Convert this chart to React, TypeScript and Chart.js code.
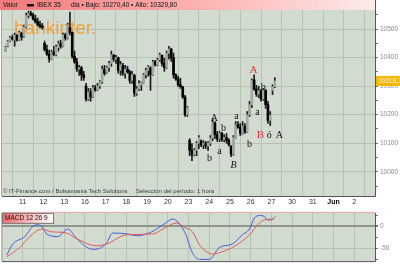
import React, { useEffect, useRef } from 'react';
import { Chart, registerables } from 'chart.js';
Chart.register(...registerables);

const SANS = '"Liberation Sans", Arial, sans-serif';
const SERIF = '"Liberation Serif", "DejaVu Serif", serif';

// x axis: trading-day index (0 = 10 May) -> label
const dayTickLabels = ['', '11', '12', '13', '16', '17', '18', '19', '20', '23', '24', '25', '26', '27', '30', '31', 'Jun', '2', ''];
const priceTicks = [10000, 10100, 10200, 10300, 10400, 10500];

// hourly candles [open, high, low, close]
const may10 = [
  [10425, 10440, 10423, 10437], [10440, 10461, 10438, 10458], [10458, 10475, 10455, 10470], [10470, 10479, 10461, 10465],
  [10462, 10486, 10440, 10478], [10478, 10481, 10458, 10462], [10462, 10493, 10460, 10488], [10486, 10489, 10461, 10472],
];
const may11 = [
  [10475, 10514, 10472, 10508], [10508, 10556, 10504, 10548], [10548, 10563, 10539, 10555], [10555, 10563, 10546, 10550],
  [10550, 10556, 10532, 10535], [10535, 10549, 10521, 10526], [10526, 10539, 10511, 10515], [10515, 10528, 10504, 10510],
  [10510, 10520, 10500, 10506],
];
const may12 = [
  [10450, 10458, 10423, 10428], [10428, 10444, 10408, 10412], [10412, 10426, 10384, 10395], [10395, 10426, 10393, 10420],
  [10420, 10440, 10408, 10410], [10410, 10444, 10406, 10438], [10435, 10458, 10423, 10450], [10450, 10461, 10433, 10440],
  [10440, 10486, 10438, 10480],
];
const may13 = [
  [10480, 10486, 10461, 10468], [10468, 10521, 10465, 10515], [10505, 10560, 10480, 10488], [10488, 10490, 10398, 10405],
  [10405, 10423, 10380, 10385], [10385, 10398, 10352, 10360], [10360, 10373, 10338, 10365], [10365, 10370, 10320, 10340],
  [10340, 10352, 10320, 10330],
];
const may16 = [
  [10300, 10310, 10247, 10255], [10255, 10292, 10250, 10280], [10280, 10292, 10247, 10262], [10262, 10303, 10260, 10295],
  [10295, 10303, 10282, 10286], [10286, 10310, 10284, 10300], [10300, 10320, 10292, 10315], [10315, 10370, 10310, 10360],
  [10360, 10373, 10338, 10345],
];
const may17 = [
  [10348, 10370, 10345, 10365], [10365, 10387, 10352, 10380], [10380, 10423, 10370, 10410], [10408, 10412, 10387, 10395],
  [10395, 10408, 10380, 10400], [10400, 10402, 10345, 10355], [10355, 10387, 10338, 10375], [10372, 10380, 10338, 10345],
  [10345, 10373, 10328, 10360],
];
const may18 = [
  [10360, 10370, 10345, 10350], [10350, 10356, 10310, 10320], [10320, 10352, 10310, 10340], [10338, 10342, 10264, 10275],
  [10275, 10299, 10268, 10290], [10290, 10320, 10285, 10310], [10305, 10315, 10285, 10312], [10312, 10345, 10310, 10340],
  [10340, 10363, 10328, 10355],
];
const may19 = [
  [10355, 10373, 10335, 10368], [10365, 10368, 10285, 10340], [10340, 10391, 10338, 10385], [10385, 10391, 10370, 10375],
  [10375, 10398, 10372, 10392], [10392, 10416, 10387, 10410], [10408, 10410, 10370, 10380], [10380, 10398, 10352, 10365],
  [10365, 10423, 10362, 10415],
];
const may20 = [
  [10415, 10440, 10395, 10430], [10430, 10433, 10387, 10400], [10400, 10416, 10328, 10340], [10340, 10343, 10320, 10325],
  [10325, 10335, 10299, 10305], [10305, 10328, 10292, 10298], [10298, 10299, 10257, 10262], [10262, 10268, 10194, 10200],
  [10200, 10229, 10194, 10225],
];
const may23 = [
  [10110, 10116, 10056, 10075], [10075, 10099, 10039, 10060], [10060, 10081, 10056, 10075], [10075, 10106, 10056, 10100],
  [10100, 10127, 10081, 10120], [10108, 10112, 10088, 10095], [10095, 10109, 10081, 10100], [10100, 10106, 10081, 10090],
  [10090, 10106, 10074, 10100],
];
const may24 = [
  [10100, 10127, 10092, 10118], [10118, 10187, 10109, 10172], [10172, 10175, 10116, 10130], [10130, 10141, 10106, 10115],
  [10115, 10141, 10106, 10135], [10135, 10138, 10106, 10112], [10112, 10130, 10105, 10120], [10120, 10134, 10100, 10110],
  [10110, 10116, 10090, 10095],
];
const may25 = [
  [10090, 10092, 10053, 10062], [10062, 10127, 10058, 10120], [10120, 10176, 10118, 10165], [10165, 10176, 10152, 10156],
  [10156, 10169, 10127, 10135], [10135, 10176, 10132, 10160], [10160, 10169, 10134, 10140], [10140, 10211, 10138, 10200],
  [10200, 10247, 10194, 10235],
];
const may26 = [
  [10235, 10325, 10225, 10320], [10322, 10340, 10285, 10290], [10290, 10303, 10264, 10272], [10272, 10299, 10260, 10285],
  [10285, 10288, 10247, 10255], [10255, 10292, 10250, 10285], [10285, 10288, 10222, 10235], [10235, 10247, 10169, 10180],
  [10180, 10211, 10162, 10198],
];
const may27 = [
  [10285, 10305, 10270.4, 10298], [10298, 10329.8, 10295, 10318.3],
];

// [day index, first hour slot, candles]
const sessions: [number, number, number[][]][] = [
  [0, 1, may10], [1, 0, may11], [2, 0, may12], [3, 0, may13], [4, 0, may16], [5, 0, may17], [6, 0, may18],
  [7, 0, may19], [8, 0, may20], [9, 0, may23], [10, 0, may24], [11, 0, may25], [12, 0, may26], [13, 0, may27],
];
const slotsPerDay = 9;

// MACD 12 26 9 : [day position, value]
const macdLine = [
  [0.23, -65], [0.52, -40], [1.1, -23], [1.48, 0], [1.72, 4], [1.92, 0], [2.16, -17], [2.69, -23], [3.17, -6],
  [3.6, -27], [3.99, -44], [4.37, -52], [4.71, -50], [5.05, -37], [5.34, -15], [6.06, -17], [6.49, -21], [6.98, -17],
  [7.46, -6], [7.9, 8], [8.23, 17], [8.81, -12], [9.19, -60], [9.53, -75], [10.01, -75], [10.49, -48], [11.12, -40],
  [11.6, -19], [11.94, -6], [12.18, 19], [12.42, 25], [12.66, 23], [12.81, 15], [13.0, 15], [13.19, 23],
];
const signalLine = [
  [0.23, -69], [0.86, -48], [1.3, -25], [1.92, -6], [2.4, -12], [3.12, -15], [3.6, -28], [4.57, -44], [5.05, -40],
  [6.01, -19], [7.27, -17], [7.8, -5], [8.42, 8], [8.8, -2], [9.19, -12], [9.53, -42], [9.8, -55], [10.16, -63],
  [10.6, -58], [11.12, -48], [11.94, -19], [12.42, 8], [12.66, 15], [13.14, 17],
];
const macdTicks = [-50, 0];

const lastPrice = 10318.3;
const lastPriceLabel = '10318,3';
const headerSeries = 'IBEX 35';
const headerInfo = 'dia \u2022 Bajo: 10270,40 \u2022 Alto: 10329,80';
const footerSource = '\u00a9 IT-Finance.com / Bolsamania Tech Solutions';
const footerPeriod = 'Selecci\u00f3n del per\u00edodo: 1 hora';

// wave labels: [text, day position, price, red?, italic?]
const waveMarks: [string, number, number, boolean, boolean][] = [
  ['A', 12.13, 10356, true, false], ['a', 12.33, 10208, false, false], ['b', 12.61, 10296, false, false],
  ['B', 12.47, 10127, true, false], ['\u00f3', 12.9, 10127, false, false], ['A', 13.39, 10127, false, false],
  ['A', 10.25, 10187, false, false], ['b', 10.69, 10152, false, false], ['a', 10.49, 10071, false, false],
  ['b', 10.01, 10046, false, false], ['a', 11.31, 10194, false, false], ['B', 11.17, 10021, false, true],
  ['b', 11.94, 10095, false, false],
];

const PLOT_BG = '#d2dbcf';
const GRID = '#b7c2b3';

const isMajor = (v: number, list: number[]) => list.some((t) => Math.abs(t - v) < 1e-6);

export default function App() {
  const mainRef = useRef<HTMLCanvasElement>(null);
  const macdRef = useRef<HTMLCanvasElement>(null);

  useEffect(() => {
    const candles = sessions.flatMap(([day, start, rows]) =>
      rows.map((r, i) => ({ t: day + (start + i + 0.5) / slotsPerDay, o: r[0], h: r[1], l: r[2], c: r[3] }))
    );

    const mainDecor = {
      id: 'mainDecor',
      beforeDraw(chart: any) {
        const { ctx, chartArea: a, width, height } = chart;
        ctx.save();
        ctx.fillStyle = '#ffffff';
        ctx.fillRect(0, 0, width, height);
        const g = ctx.createLinearGradient(0, 0, a.right, 0);
        g.addColorStop(0, '#f27a7a');
        g.addColorStop(0.55, '#fdb4b4');
        g.addColorStop(1, '#fdeaea');
        ctx.fillStyle = g;
        ctx.fillRect(0, 0, a.right, a.top);
        ctx.fillStyle = PLOT_BG;
        ctx.fillRect(a.left, a.top, a.right - a.left, a.bottom - a.top);
        ctx.restore();
      },
      beforeDatasetsDraw(chart: any) {
        const { ctx, chartArea: a } = chart;
        ctx.save();
        ctx.font = `19px ${SANS}`;
        ctx.fillStyle = 'rgba(247,150,40,0.85)';
        ctx.textBaseline = 'alphabetic';
        ctx.fillText('bankinter.', a.left + 12, a.top + 24);
        ctx.restore();
      },
      afterDraw(chart: any) {
        const { ctx, chartArea: a, scales } = chart;
        const xs = scales.x, ys = scales.y;
        ctx.save();
        // borders
        ctx.strokeStyle = '#f08a8a';
        ctx.lineWidth = 1;
        ctx.beginPath();
        ctx.moveTo(a.left - 0.5, 0); ctx.lineTo(a.left - 0.5, a.bottom);
        ctx.stroke();
        ctx.strokeStyle = '#555';
        ctx.beginPath();
        ctx.moveTo(a.left, a.bottom + 0.5); ctx.lineTo(a.right + 0.5, a.bottom + 0.5);
        ctx.moveTo(a.right + 0.5, 0); ctx.lineTo(a.right + 0.5, a.bottom + 0.5);
        ctx.stroke();
        // header
        ctx.font = `6.5px ${SANS}`;
        ctx.fillStyle = '#111';
        ctx.textBaseline = 'middle';
        ctx.fillText('Valor', 3, 5);
        ctx.fillRect(27, 4, 7, 2.5);
        ctx.fillText(headerSeries, 37, 5);
        ctx.fillText(headerInfo, 71, 5);
        // footer
        ctx.fillStyle = '#3a3a3a';
        ctx.font = `6px ${SANS}`;
        ctx.fillText(footerSource, a.left + 1, a.bottom - 5);
        ctx.fillText(footerPeriod, a.left + 134, a.bottom - 5);
        // wave marks
        ctx.textAlign = 'center';
        for (const [txt, d, p, red, italic] of waveMarks) {
          ctx.font = `${italic ? 'italic ' : ''}${red ? 11 : 10}px ${SERIF}`;
          ctx.fillStyle = red ? '#e8343a' : '#111';
          ctx.fillText(txt, xs.getPixelForValue(d), ys.getPixelForValue(p));
        }
        // last price label
        const py = ys.getPixelForValue(lastPrice);
        ctx.fillStyle = '#f2b705';
        ctx.fillRect(a.right + 1, py - 5, 25, 10);
        ctx.fillStyle = '#fff6cc';
        ctx.font = `6.5px ${SANS}`;
        ctx.textAlign = 'left';
        ctx.fillText(lastPriceLabel, a.right + 3, py);
        ctx.restore();
      },
    };

    const main = new Chart(mainRef.current!, {
      type: 'bar',
      data: {
        datasets: [
          {
            data: candles.map((c) => ({ x: c.t, y: [c.l, c.h] })) as any,
            backgroundColor: '#1c1c1c',
            barThickness: 1,
            grouped: false,
            order: 2,
          } as any,
          {
            data: candles.map((c) => ({ x: c.t, y: [c.o, c.c] })) as any,
            backgroundColor: candles.map((c) => (c.c >= c.o ? '#a3a8a3' : '#000000')),
            barThickness: 2,
            minBarLength: 1,
            grouped: false,
            order: 1,
          } as any,
        ],
      },
      options: {
        animation: false,
        responsive: false,
        maintainAspectRatio: false,
        layout: { padding: { left: 2, top: 10, right: 0, bottom: 0 } },
        plugins: { legend: { display: false }, tooltip: { enabled: false } },
        scales: {
          x: {
            type: 'linear',
            min: 0,
            max: 18,
            offset: false,
            ticks: {
              stepSize: 1,
              autoSkip: false,
              maxRotation: 0,
              includeBounds: false,
              padding: 2,
              color: (c: any) => (c.tick && c.tick.value === 16 ? '#000' : '#333'),
              font: (c: any) => ({ family: SANS, size: 7, weight: c.tick && c.tick.value === 16 ? 'bold' : 'normal' }),
              callback: (v: any) => dayTickLabels[Math.round(v)] ?? '',
            },
            grid: { color: GRID, drawTicks: false },
            border: { display: false },
            afterFit: (s: any) => { s.height = 11; },
          } as any,
          y: {
            type: 'linear',
            position: 'right',
            beginAtZero: false,
            min: 9915,
            max: 10567,
            afterBuildTicks: (s: any) => {
              const vals: number[] = [];
              for (let v = 9950; v <= 10550; v += 50) vals.push(v);
              s.ticks = vals.map((value) => ({ value }));
            },
            ticks: {
              autoSkip: false,
              padding: 2,
              color: '#8a8a8a',
              font: { family: SANS, size: 6.5 },
              callback: (v: any) => (isMajor(Number(v), priceTicks) ? String(v) : ''),
            },
            grid: {
              color: (c: any) => (c.tick && isMajor(c.tick.value, priceTicks) ? GRID : 'transparent'),
              tickColor: '#777',
              tickLength: 3,
            },
            border: { display: false },
            afterFit: (s: any) => { s.width = 25; },
          } as any,
        },
      },
      plugins: [mainDecor],
    });

    const macdDecor = {
      id: 'macdDecor',
      beforeDraw(chart: any) {
        const { ctx, chartArea: a, width, height } = chart;
        ctx.save();
        ctx.fillStyle = '#ffffff';
        ctx.fillRect(0, 0, width, height);
        ctx.fillStyle = PLOT_BG;
        ctx.fillRect(a.left, a.top, a.right - a.left, a.bottom - a.top);
        ctx.restore();
      },
      afterDraw(chart: any) {
        const { ctx, chartArea: a } = chart;
        ctx.save();
        ctx.strokeStyle = '#f0a0a0';
        ctx.lineWidth = 1;
        ctx.beginPath();
        ctx.moveTo(a.left, a.top - 0.5); ctx.lineTo(a.right, a.top - 0.5);
        ctx.moveTo(a.left - 0.5, a.top); ctx.lineTo(a.left - 0.5, a.bottom);
        ctx.stroke();
        ctx.strokeStyle = '#555';
        ctx.beginPath();
        ctx.moveTo(a.left, a.bottom + 0.5); ctx.lineTo(a.right + 0.5, a.bottom + 0.5);
        ctx.moveTo(a.right + 0.5, a.top); ctx.lineTo(a.right + 0.5, a.bottom + 0.5);
        ctx.stroke();
        // title box
        const g = ctx.createLinearGradient(a.left, 0, a.left + 52, 0);
        g.addColorStop(0, '#f26a6a');
        g.addColorStop(1, '#ffffff');
        ctx.fillStyle = g;
        ctx.fillRect(a.left, a.top, 52, 10);
        ctx.strokeStyle = '#777';
        ctx.strokeRect(a.left + 0.5, a.top + 0.5, 51, 10);
        ctx.fillStyle = '#111';
        ctx.font = `6.5px ${SANS}`;
        ctx.textBaseline = 'middle';
        ctx.fillText('MACD 12 26 9', a.left + 3, a.top + 5.5);
        ctx.restore();
      },
    };

    const macd = new Chart(macdRef.current!, {
      type: 'line',
      data: {
        datasets: [
          {
            data: signalLine.map(([x, y]) => ({ x, y })),
            borderColor: '#e05a5a',
            borderWidth: 1,
            pointRadius: 0,
            cubicInterpolationMode: 'monotone',
          },
          {
            data: macdLine.map(([x, y]) => ({ x, y })),
            borderColor: '#4a5ae0',
            borderWidth: 1,
            pointRadius: 0,
            cubicInterpolationMode: 'monotone',
          },
        ],
      },
      options: {
        animation: false,
        responsive: false,
        maintainAspectRatio: false,
        layout: { padding: { left: 2, top: 2, right: 0, bottom: 0 } },
        plugins: { legend: { display: false }, tooltip: { enabled: false } },
        scales: {
          x: {
            type: 'linear',
            min: 0,
            max: 18,
            ticks: { display: false, stepSize: 1 },
            grid: { color: GRID, drawTicks: false },
            border: { display: false },
            afterFit: (s: any) => { s.height = 5; },
          } as any,
          y: {
            position: 'right',
            min: -79,
            max: 31,
            afterBuildTicks: (s: any) => {
              s.ticks = [-75, -50, -25, 0, 25].map((value) => ({ value }));
            },
            ticks: {
              autoSkip: false,
              padding: 2,
              color: '#8a8a8a',
              font: { family: SANS, size: 6.5 },
              callback: (v: any) => (isMajor(Number(v), macdTicks) ? String(v) : ''),
            },
            grid: {
              color: (c: any) => (c.tick && c.tick.value === 0 ? '#8e958b' : c.tick && c.tick.value === -50 ? GRID : 'transparent'),
              lineWidth: (c: any) => (c.tick && c.tick.value === 0 ? 2 : 1),
              tickColor: '#777',
              tickLength: 3,
            },
            border: { display: false },
            afterFit: (s: any) => { s.width = 25; },
          } as any,
        },
      },
      plugins: [macdDecor],
    });

    return () => {
      main.destroy();
      macd.destroy();
    };
  }, []);

  return (
    <div style={{ position: 'fixed', left: 0, top: 0, width: 400, height: 267, background: '#fff' }}>
      <canvas ref={mainRef} width={400} height={207} style={{ position: 'absolute', left: 0, top: 0 }} />
      <canvas ref={macdRef} width={400} height={60} style={{ position: 'absolute', left: 0, top: 207 }} />
    </div>
  );
}
